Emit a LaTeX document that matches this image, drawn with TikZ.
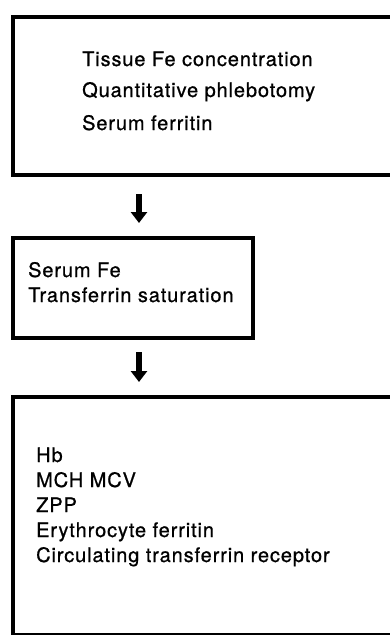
\documentclass[tikz,border=0pt]{standalone}
\usepackage{fontspec}
\setmainfont{TeX Gyre Heros}[LetterSpace=4.4, FakeBold=0.8]
\usetikzlibrary{arrows.meta}
\begin{document}
\begin{tikzpicture}[x=1pt,y=-1pt,
  box/.style={draw, line width=4pt, inner sep=0pt, anchor=north west},
  txt/.style={anchor=base west, inner sep=0pt, font=\fontsize{20}{24}\selectfont},
  arr/.style={-{Triangle[width=16pt,length=11pt]}, line width=6pt}]
\useasboundingbox (0,0) rectangle (390,635);
\clip (0,0) rectangle (390,635);
\node[box, minimum width=400pt, minimum height=158pt] (b1) at (11,15) {};
\node[box, minimum width=240pt, minimum height=100pt] (b2) at (11,236) {};
\node[box, minimum width=400pt, minimum height=238pt] (b3) at (11,395) {};
\node[txt] (t11) at (82,66) {Tissue Fe concentration};
\node[txt] (t12) at (82,97) {Quantitative phlebotomy};
\node[txt] (t13) at (82,130) {Serum ferritin};
\node[txt] (t21) at (28,277) {Serum Fe};
\node[txt] (t22) at (28,302) {Transferrin saturation};
\node[txt] (t31) at (36,462) {Hb};
\node[txt] (t32) at (36,487) {MCH MCV};
\node[txt] (t33) at (36,512) {ZPP};
\node[txt] (t34) at (36,537) {Erythrocyte ferritin};
\node[txt] (t35) at (36,562) {Circulating transferrin receptor};
\coordinate (ax) at (139,0);
\draw[arr, shorten <=17pt, shorten >=13pt] (b1.south -| ax) -- (b2.north -| ax);
\draw[arr, shorten <=12pt, shorten >=13pt] (b2.south -| ax) -- (b3.north -| ax);
\end{tikzpicture}
\end{document}
